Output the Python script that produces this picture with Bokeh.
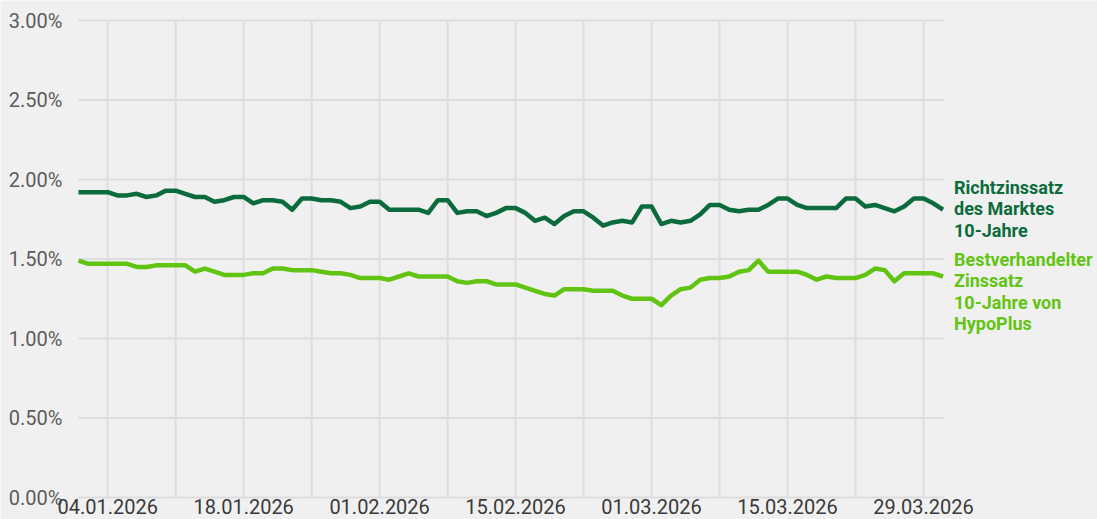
import pandas as pd
from bokeh.plotting import figure
from bokeh.models import Range1d, Label, LabelSet, ColumnDataSource
from bokeh.core.properties import value
from bokeh.embed import file_html
from bokeh.resources import INLINE

# ---- data -------------------------------------------------------------
dates = pd.date_range("2026-01-01", "2026-03-31", freq="D")

markt = [1.92, 1.92, 1.92, 1.92, 1.90, 1.90, 1.91, 1.89, 1.90, 1.93,
         1.93, 1.91, 1.89, 1.89, 1.86, 1.87, 1.89, 1.89, 1.85, 1.87,
         1.87, 1.86, 1.81, 1.88, 1.88, 1.87, 1.87, 1.86, 1.82, 1.83,
         1.86, 1.86, 1.81, 1.81, 1.81, 1.81, 1.79, 1.87, 1.87, 1.79,
         1.80, 1.80, 1.77, 1.79, 1.82, 1.82, 1.79, 1.74, 1.76, 1.72,
         1.77, 1.80, 1.80, 1.76, 1.71, 1.73, 1.74, 1.73, 1.83, 1.83,
         1.72, 1.74, 1.73, 1.74, 1.78, 1.84, 1.84, 1.81, 1.80, 1.81,
         1.81, 1.84, 1.88, 1.88, 1.84, 1.82, 1.82, 1.82, 1.82, 1.88,
         1.88, 1.83, 1.84, 1.82, 1.80, 1.83, 1.88, 1.88, 1.85, 1.81]

hypo = [1.49, 1.47, 1.47, 1.47, 1.47, 1.47, 1.45, 1.45, 1.46, 1.46,
        1.46, 1.46, 1.42, 1.44, 1.42, 1.40, 1.40, 1.40, 1.41, 1.41,
        1.44, 1.44, 1.43, 1.43, 1.43, 1.42, 1.41, 1.41, 1.40, 1.38,
        1.38, 1.38, 1.37, 1.39, 1.41, 1.39, 1.39, 1.39, 1.39, 1.36,
        1.35, 1.36, 1.36, 1.34, 1.34, 1.34, 1.32, 1.30, 1.28, 1.27,
        1.31, 1.31, 1.31, 1.30, 1.30, 1.30, 1.27, 1.25, 1.25, 1.25,
        1.21, 1.27, 1.31, 1.32, 1.37, 1.38, 1.38, 1.39, 1.42, 1.43,
        1.49, 1.42, 1.42, 1.42, 1.42, 1.40, 1.37, 1.39, 1.38, 1.38,
        1.38, 1.40, 1.44, 1.43, 1.36, 1.41, 1.41, 1.41, 1.41, 1.39]

x_tick_labels = ["04.01.2026", "18.01.2026", "01.02.2026", "15.02.2026",
                 "01.03.2026", "15.03.2026", "29.03.2026"]
grid_dates = pd.date_range("2026-01-04", "2026-03-29", freq="7D")
y_ticks = [0.0, 0.5, 1.0, 1.5, 2.0, 2.5, 3.0]
y_tick_labels = ["0.00%", "0.50%", "1.00%", "1.50%", "2.00%", "2.50%", "3.00%"]

label_markt = ["Richtzinssatz", "des Marktes", "10-Jahre"]
label_hypo = ["Bestverhandelter", "Zinssatz", "10-Jahre von", "HypoPlus"]

# ---- style ------------------------------------------------------------
BG = "#f0f0f0"
GRID = "#dddddd"
DARK = "#0b6b3c"
LIGHT = "#62c412"
FONT = "Roboto"

PX_PER_PCT = 159.0
PX_PER_DAY = 9.713
y_top = 3.0 + 20.0 / PX_PER_PCT
y_bottom = -22.0 / PX_PER_PCT
day = pd.Timedelta(days=1)

p = figure(width=1097, height=519, x_axis_type="datetime",
           x_axis_location=None, y_axis_location=None,
           output_backend="svg", toolbar_location=None,
           x_range=Range1d(dates[0] - (78 / PX_PER_DAY) * day,
                           dates[-1] + ((1097 - 942.5) / PX_PER_DAY) * day),
           y_range=Range1d(y_bottom, y_top),
           min_border=0)
p.background_fill_color = BG
p.border_fill_color = BG
p.outline_line_color = None
p.grid.visible = False

# grid lines limited to the data area
n_h = len(y_ticks)
p.segment(x0=[dates[0]] * n_h, x1=[dates[-1] + 0.15 * day] * n_h, y0=y_ticks, y1=y_ticks,
          line_color=GRID, line_width=2)
n_v = len(grid_dates)
p.segment(x0=grid_dates, x1=grid_dates, y0=[0.0] * n_v, y1=[3.0] * n_v,
          line_color=GRID, line_width=2)

# series
p.line(dates, markt, line_color=DARK, line_width=4.5, line_join="round")
p.line(dates, hypo, line_color=LIGHT, line_width=4.5, line_join="round")

# y tick labels
ysrc = ColumnDataSource(dict(x=[dates[0]] * n_h, y=y_ticks, t=y_tick_labels))
p.add_layout(LabelSet(x="x", y="y", x_offset=-16, text="t", source=ysrc,
                      text_align="right", text_baseline="middle",
                      text_font=value(FONT), text_font_size="20px",
                      text_color="#5c5c5c"))

# x tick labels (just below the 0 line)
tick_dates = pd.to_datetime(x_tick_labels, format="%d.%m.%Y")
xsrc = ColumnDataSource(dict(x=tick_dates, y=[0.0] * len(tick_dates), t=x_tick_labels))
p.add_layout(LabelSet(x="x", y="y", y_offset=-16, text="t", source=xsrc,
                      text_align="center", text_baseline="alphabetic",
                      text_font=value(FONT), text_font_size="20px",
                      text_color="#3a3a3a"))

# series labels at the right
LINE_H = 21.4
def add_block(lines, anchor, top_offset, color):
    for i, t in enumerate(lines):
        p.add_layout(Label(x=dates[-1], y=anchor, x_offset=11,
                           y_offset=top_offset - i * LINE_H, text=t,
                           text_align="left", text_baseline="alphabetic",
                           text_font=FONT, text_font_size="18px",
                           text_font_style="bold", text_color=color))

add_block(label_markt, markt[-1], 22.2, DARK)
add_block(label_hypo, hypo[-1], 17.0, LIGHT)

open("out.html", "w").write(file_html(p, INLINE))
